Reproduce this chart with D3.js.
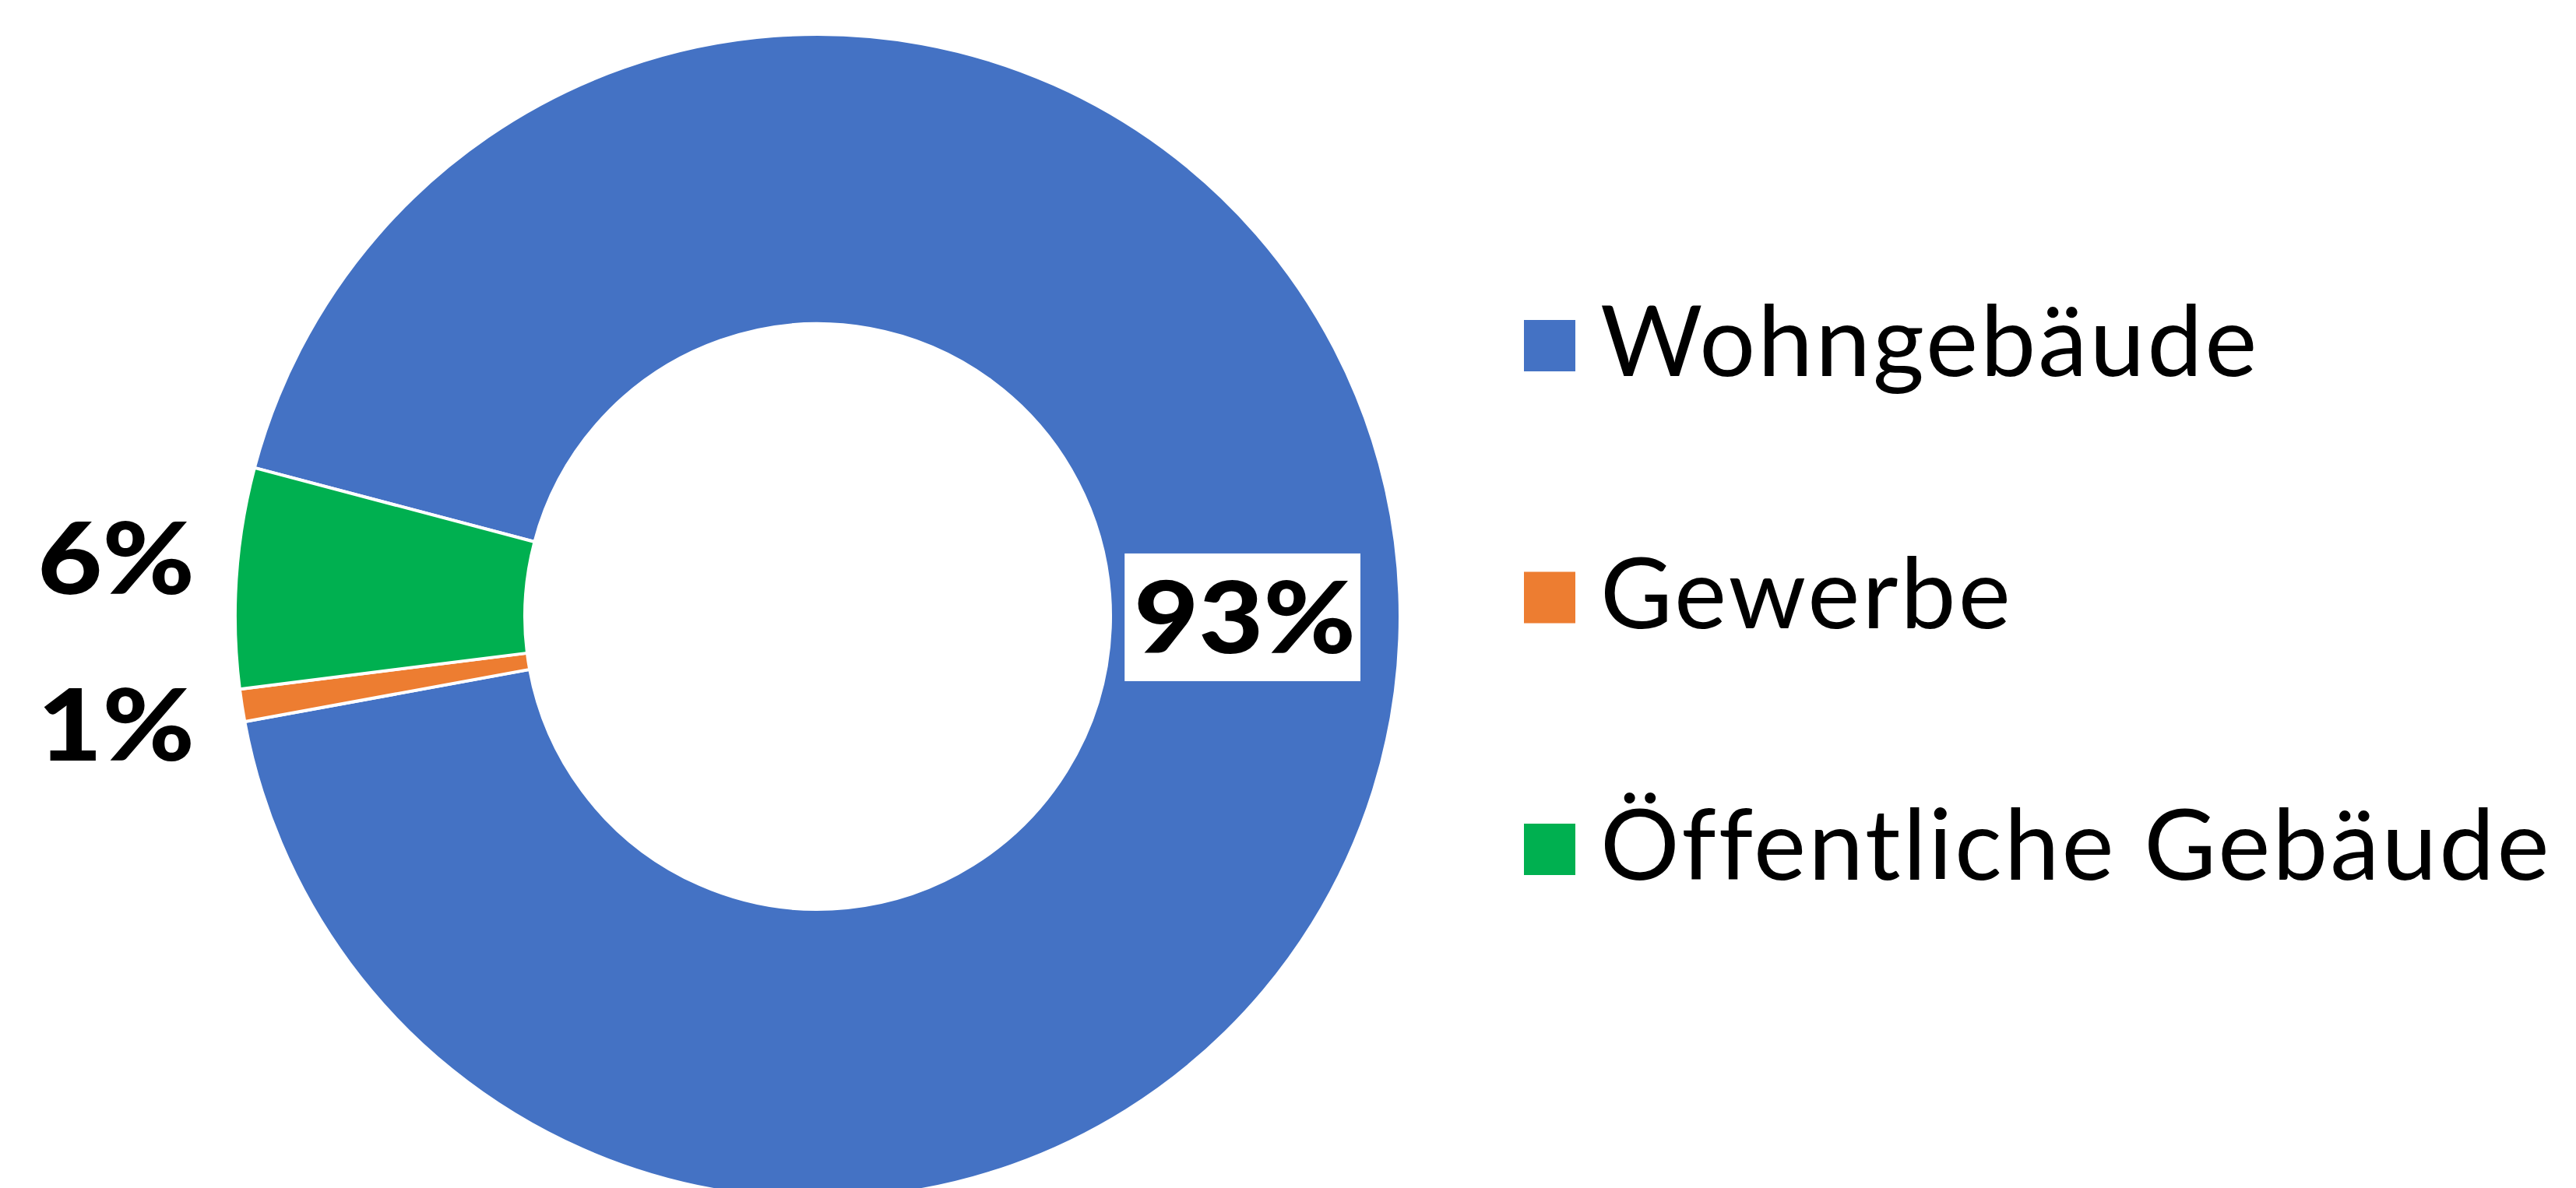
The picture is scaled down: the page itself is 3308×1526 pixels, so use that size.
<!DOCTYPE html>
<html>
<head>
<meta charset="utf-8">
<script src="https://cdn.jsdelivr.net/npm/d3@7/dist/d3.min.js"></script>
<style>
  body { margin: 0; background: #fff; }
  svg { display: block; }
</style>
</head>
<body>
<div id="chart"></div>
<script>
// donut data
const categories = ['Wohngebäude', 'Gewerbe', 'Öffentliche Gebäude']
const shares = [93.0, 0.9, 6.1]
const pctLabels = ['93%', '1%', '6%']
const colors = ['#4472C4', '#ED7D31', '#00B050']

const W = 3308, H = 1526
const cx = 1050, cy = 792
const outerR = 748, innerR = 376
const rot = 284.8 * Math.PI / 180   // first slice starts here (clockwise from top)

let svg = d3.select('#chart').append('svg')
  .attr('width', W)
  .attr('height', H)

let pie = d3.pie().sort(null).value(d => d)
  .startAngle(rot)
  .endAngle(rot + 2 * Math.PI)

let arcs = pie(shares)

let arc = d3.arc().innerRadius(innerR).outerRadius(outerR)
let midArc = d3.arc().innerRadius(545).outerRadius(545)

let g = svg.append('g').attr('transform', 'translate(' + cx + ',' + cy + ')')

g.selectAll('path').data(arcs).enter().append('path')
  .attr('d', arc)
  .attr('fill', (d, i) => colors[i])
  .attr('stroke', '#fff')
  .attr('stroke-width', 4)
  .attr('stroke-linejoin', 'miter')

const numFont = 'Lato, "Open Sans", sans-serif'
const numSize = 128
const widen = 1.12   // reference digits are wider than Lato's

function numLabel(parent, x, y, anchor, txt) {
  return parent.append('text')
    .attr('transform', 'translate(' + x + ',' + y + ') scale(' + widen + ',1)')
    .attr('text-anchor', anchor)
    .attr('font-family', numFont)
    .attr('font-weight', 900)
    .attr('font-size', numSize)
    .attr('fill', '#000')
    .text(txt)
}

// big slice -> label inside with white box
let inside = arcs.filter(d => d.value > 20)
inside.forEach(d => {
  let i = d.index
  let [x, y] = midArc.centroid(d)
  y -= 20
  let lg = g.append('g')
  let box = lg.append('rect').attr('fill', '#fff')
  let t = numLabel(lg, x + 4, y + 46, 'middle', pctLabels[i])
  let bb = t.node().getBBox()
  let bw = bb.width * widen
  box.attr('x', x - bw / 2 - 8).attr('width', bw + 18)
    .attr('y', y - 82).attr('height', 164)
})

// small slices -> labels outside on the left, spread apart
let outside = arcs.filter(d => d.value <= 20).map(d => {
  let a = (d.startAngle + d.endAngle) / 2
  return {i: d.index, y: -Math.cos(a) * outerR}
})
outside.sort((a, b) => a.y - b.y)
const minGap = 214
for (let k = 1; k < outside.length; k++) {
  let gap = outside[k].y - outside[k - 1].y
  if (gap < minGap) {
    let push = (minGap - gap) / 2
    outside[k - 1].y -= push
    outside[k].y += push
  }
}
outside.forEach(o => {
  numLabel(g, -outerR - 52, o.y + 46, 'end', pctLabels[o.i])
})

// legend
let legendY = d3.scalePoint().domain(categories).range([444, 1091])
let legend = svg.append('g')
let items = legend.selectAll('g').data(categories).enter().append('g')
  .attr('transform', d => 'translate(1957,' + legendY(d) + ')')

items.append('rect')
  .attr('x', 0).attr('y', -33)
  .attr('width', 66).attr('height', 66)
  .attr('fill', (d, i) => colors[i])

items.append('text')
  .attr('x', 98).attr('y', 39)
  .attr('font-family', 'Lato, "Open Sans", sans-serif')
  .attr('font-weight', 400)
  .attr('font-size', 127)
  .attr('letter-spacing', 3)
  .attr('fill', '#000')
  .text(d => d)
</script>
</body>
</html>
